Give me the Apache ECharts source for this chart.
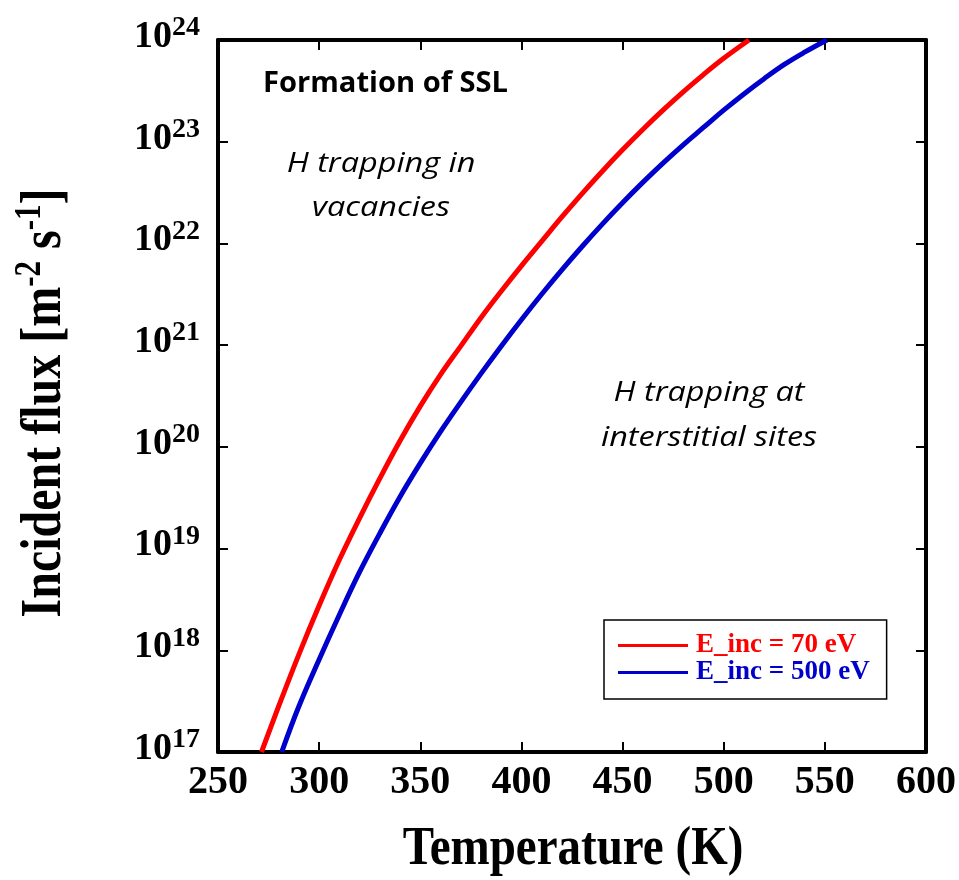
<!DOCTYPE html>
<html>
<head>
<meta charset="utf-8">
<script src="https://cdn.jsdelivr.net/npm/echarts@6/dist/echarts.min.js"></script>
<style>
  html, body { margin: 0; padding: 0; background: #fff; }
  #chart { width: 959px; height: 880px; }
</style>
</head>
<body>
<div id="chart"></div>
<script>
// Temperature (K) and log10 of the incident flux (m^-2 s^-1) along each boundary curve
const tempLow = [271.5, 280, 290, 300, 310, 320, 330, 340, 350, 360, 370, 380, 390, 400, 410, 420, 430, 440, 450, 460, 470, 480, 490, 500, 512.5];
const logFluxLow = [17.0, 17.45, 17.96, 18.44, 18.89, 19.3, 19.69, 20.06, 20.4, 20.71, 20.99, 21.27, 21.53, 21.78, 22.02, 22.26, 22.49, 22.71, 22.92, 23.12, 23.31, 23.49, 23.66, 23.82, 24.0];

const tempHigh = [281.5, 290, 300, 310, 320, 330, 340, 350, 360, 370, 380, 390, 400, 410, 420, 430, 440, 450, 460, 470, 480, 490, 500, 510, 520, 530, 540, 551];
const logFluxHigh = [17.0, 17.45, 17.91, 18.35, 18.77, 19.15, 19.51, 19.84, 20.15, 20.44, 20.72, 20.99, 21.25, 21.5, 21.74, 21.97, 22.19, 22.4, 22.6, 22.79, 22.97, 23.14, 23.31, 23.47, 23.62, 23.76, 23.88, 24.0];

const seriesNames = ['E_inc = 70 eV', 'E_inc = 500 eV'];
const seriesColors = ['#ff0000', '#0000cc'];

const xTicks = [250, 300, 350, 400, 450, 500, 550, 600];
const yDecades = [17, 18, 19, 20, 21, 22, 23, 24];

const SERIF = '"Liberation Serif", "Times New Roman", serif';
const SANS = '"Open Sans", "Noto Sans", sans-serif';

function toPairs(ts, logs) {
  return ts.map((t, i) => [t, Math.pow(10, logs[i])]);
}

const frameLine = { show: true, lineStyle: { color: '#000', width: 4 } };
const innerTick = { show: true, inside: true, length: 10, lineStyle: { color: '#000', width: 2 } };

const chart = echarts.init(document.getElementById('chart'), null, { renderer: 'canvas' });

chart.setOption({
  backgroundColor: '#fff',
  animation: false,
  grid: { left: 218, right: 31, top: 40, bottom: 128, containLabel: false },
  legend: {
    orient: 'vertical',
    left: 604,
    top: 620,
    padding: [12, 17, 13, 14],
    itemGap: 0,
    itemWidth: 70,
    itemHeight: 3,
    borderColor: '#000',
    borderWidth: 1.5,
    backgroundColor: '#fff',
    textStyle: { fontFamily: SERIF, fontWeight: 'bold', fontSize: 27, lineHeight: 27, padding: [0, 0, 0, 3] },
    data: seriesNames.map((n, i) => ({ name: n, icon: 'rect', textStyle: { color: seriesColors[i] } }))
  },
  xAxis: [
    {
      type: 'value', min: xTicks[0], max: xTicks[xTicks.length - 1], interval: 50,
      position: 'bottom',
      axisLine: frameLine, axisTick: innerTick, splitLine: { show: false },
      axisLabel: { margin: 11, color: '#000', fontFamily: SERIF, fontWeight: 'bold', fontSize: 40 }
    },
    {
      type: 'value', min: xTicks[0], max: xTicks[xTicks.length - 1], interval: 50,
      position: 'top',
      axisLine: frameLine, axisTick: innerTick, splitLine: { show: false },
      axisLabel: { show: false }
    }
  ],
  yAxis: [
    {
      type: 'log', logBase: 10, min: Math.pow(10, yDecades[0]), max: Math.pow(10, yDecades[yDecades.length - 1]),
      position: 'left',
      axisLine: frameLine, axisTick: innerTick, splitLine: { show: false }, minorTick: { show: false },
      axisLabel: {
        margin: 18,
        padding: [0, 0, 6, 0],
        formatter: v => '{b|10}{s|' + Math.round(Math.log10(v)) + '}',
        rich: {
          b: { fontFamily: SERIF, fontWeight: 'bold', fontSize: 38, color: '#000', lineHeight: 46 },
          s: { fontFamily: SERIF, fontWeight: 'bold', fontSize: 28, color: '#000', lineHeight: 14, verticalAlign: 'top' }
        }
      }
    },
    {
      type: 'log', logBase: 10, min: Math.pow(10, yDecades[0]), max: Math.pow(10, yDecades[yDecades.length - 1]),
      position: 'right',
      axisLine: frameLine, axisTick: innerTick, splitLine: { show: false },
      axisLabel: { show: false }
    }
  ],
  series: [
    {
      name: seriesNames[0], type: 'line', smooth: 0.4, showSymbol: false, symbol: 'none',
      xAxisIndex: 0, yAxisIndex: 0, clip: true,
      itemStyle: { color: seriesColors[0] },
      lineStyle: { color: seriesColors[0], width: 5 },
      data: toPairs(tempLow, logFluxLow)
    },
    {
      name: seriesNames[1], type: 'line', smooth: 0.4, showSymbol: false, symbol: 'none',
      xAxisIndex: 0, yAxisIndex: 0, clip: true,
      itemStyle: { color: seriesColors[1] },
      lineStyle: { color: seriesColors[1], width: 5 },
      data: toPairs(tempHigh, logFluxHigh)
    }
  ],
  graphic: [
    {
      type: 'text', x: 573, y: 850, scaleY: 1.15,
      style: {
        text: 'Temperature (K)', fill: '#000',
        font: 'bold 47px ' + SERIF, textAlign: 'center', textVerticalAlign: 'middle'
      }
    },
    {
      type: 'text', x: 45, y: 403, rotation: Math.PI / 2, scaleY: 1.2,
      style: {
        text: '{m|Incident flux [m}{s|-2}{m| s}{s|-1}{m|]}',
        textAlign: 'center', textVerticalAlign: 'middle', fill: '#000',
        rich: {
          m: { font: 'bold 48px ' + SERIF, fill: '#000', lineHeight: 56 },
          s: { font: 'bold 31px ' + SERIF, fill: '#000', lineHeight: 20, verticalAlign: 'top' }
        }
      }
    },
    {
      type: 'text', x: 263, y: 84, scaleX: 1.04,
      style: {
        text: 'Formation of SSL', fill: '#000',
        font: 'bold 28px ' + SANS, textAlign: 'left', textVerticalAlign: 'middle'
      }
    },
    {
      type: 'text', x: 381, y: 186, scaleX: 1.2,
      style: {
        text: 'H trapping in\nvacancies', fill: '#000', lineHeight: 44,
        font: 'italic 27px ' + SANS, textAlign: 'center', textVerticalAlign: 'middle'
      }
    },
    {
      type: 'text', x: 709, y: 416, scaleX: 1.2,
      style: {
        text: 'H trapping at\ninterstitial sites', fill: '#000', lineHeight: 45,
        font: 'italic 27px ' + SANS, textAlign: 'center', textVerticalAlign: 'middle'
      }
    }
  ]
});
</script>
</body>
</html>
